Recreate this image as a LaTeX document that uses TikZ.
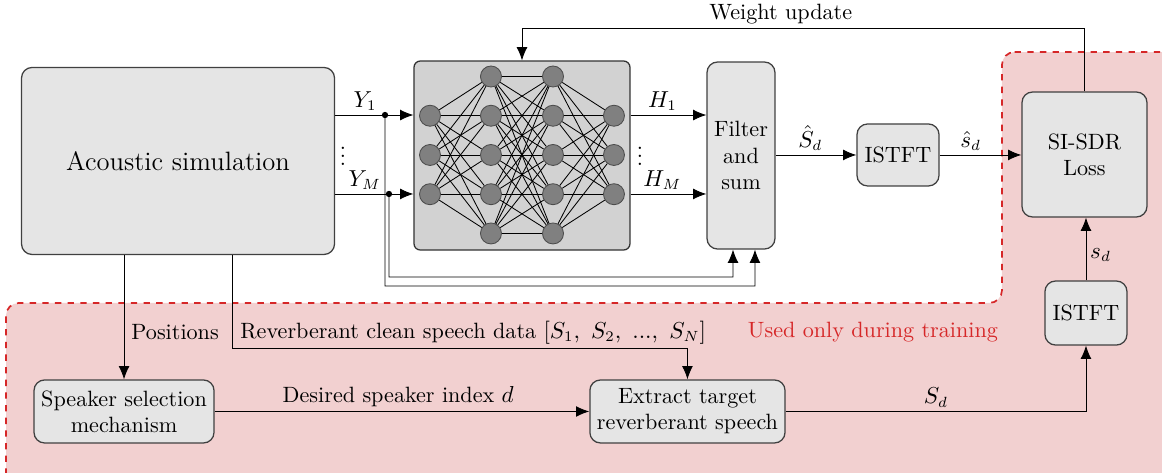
\documentclass[tikz,border=0pt]{standalone}
\usepackage{tikz}
\usetikzlibrary{arrows.meta,calc}
\usepackage{amsmath}
\definecolor{trainred}{RGB}{214,39,40}
\definecolor{trainfill}{RGB}{242,208,208}

\begin{document}
\begin{tikzpicture}[
	>={Latex[length=2.2mm,width=1.8mm]},
	every node/.style={font=\fontsize{10.5pt}{12.4pt}\selectfont},
	block/.style={draw=black!75,semithick,fill=gray!20,rounded corners=5pt,align=center},
	neuron/.style={circle,draw=black!70,fill=gray,minimum size=0.35cm,inner sep=0pt},
	lab/.style={inner sep=1.8pt},
	]
	\clip (0,0) rectangle (19.367,-7.867);
	% training region
	\draw[trainred,thick,dashed,fill=trainfill,rounded corners=6pt]
		(16.7,-0.867) -- (19.8,-0.867) -- (19.8,-8.1) -- (0.1,-8.1)
		-- (0.1,-5.05) -- (16.7,-5.05) -- cycle;
	\node[trainred] (note) at (14.55,-5.533) {Used only during training};

	\node[block,minimum width=5.217cm,minimum height=3.117cm] (ac) at (2.967,-2.683) {\fontsize{12.6pt}{15pt}\selectfont Acoustic simulation};
	\node[draw=black!80,semithick,fill=gray!35,rounded corners=3pt,minimum width=3.6cm,minimum height=3.15cm] (nn) at (8.7,-2.592) {};
	\node[block,minimum width=1.133cm,minimum height=3.117cm] (filter) at (12.35,-2.592) {Filter\\and\\sum};
	\node[block,minimum width=1.367cm,minimum height=1.033cm] (istA) at (14.967,-2.583) {ISTFT};
	\node[block,minimum width=2.083cm,minimum height=2.083cm] (loss) at (18.075,-2.575) {SI-SDR\\Loss};
	\node[block,minimum width=1.367cm,minimum height=1.067cm] (istB) at (18.1,-5.217) {ISTFT};
	\node[block,minimum width=3cm,minimum height=1.05cm] (spk) at (2.067,-6.858) {Speaker selection\\mechanism};
	\node[block,minimum width=3.25cm,minimum height=1.05cm] (ext) at (11.458,-6.858) {Extract target\\reverberant speech};

	% network
	\foreach \i in {-1,0,1} {
		\node[neuron] (a\i) at (7.167,-2.583+0.654*\i) {};
		\node[neuron] (d\i) at (10.233,-2.583+0.654*\i) {};
	}
	\foreach \i in {-2,...,2} {
		\node[neuron] (b\i) at (8.183,-2.583+0.654*\i) {};
		\node[neuron] (c\i) at (9.217,-2.583+0.654*\i) {};
	}
	\foreach \i in {-1,0,1} {
		\foreach \j in {-2,...,2} {
			\draw (a\i) -- (b\j);
			\draw (c\j) -- (d\i);
		}
	}
	\foreach \i in {-2,...,2} {
		\foreach \j in {-2,...,2} {
			\draw (b\i) -- (c\j);
		}
	}

	% inputs
	\coordinate (yA) at (6.417,-1.917);
	\coordinate (yB) at (6.483,-3.233);
	\draw (ac.east |- yA) -- (yA) node[lab,pos=0.6,above] {$Y_1$};
	\draw[->] (yA) -- (nn.west |- yA);
	\draw (ac.east |- yB) -- (yB) node[lab,pos=0.55,above] {$Y_M$};
	\draw[->] (yB) -- (nn.west |- yB);
	\fill (yA) circle (1.5pt);
	\fill (yB) circle (1.5pt);
	\node[inner sep=0pt] (vdA) at (5.717,-2.5) {$\vdots$};
	\draw[->] (yA) |- (12.583,-4.767) -- ([xshift=0.233cm]filter.south);
	\draw[->] (yB) |- (12.217,-4.617) -- ([xshift=-0.133cm]filter.south);

	% outputs
	\draw[->] (nn.east |- yA) -- (filter.west |- yA) node[lab,pos=0.42,above] {$H_1$};
	\draw[->] (nn.east |- yB) -- (filter.west |- yB) node[lab,pos=0.42,above] {$H_M$};
	\node[inner sep=0pt] (vdB) at (10.667,-2.5) {$\vdots$};
	\draw[->] (filter.east |- istA) -- (istA.west) node[lab,pos=0.43,above] {$\hat{S}_d$};
	\draw[->] (istA.east) -- (loss.west |- istA) node[lab,pos=0.38,above] {$\hat{s}_d$};
	\draw[->] (loss.north) -- ++(0,1.05) -| (nn.north) node[lab,pos=0.27,above] {Weight update};
	\draw[->] (istB.north) -- (istB.north |- loss.south) node[lab,pos=0.4,right] {$s_d$};

	% data
	\draw[->] (ac.south -| spk.north) -- (spk.north) node[pos=0.62,right] {Positions};
	\draw[->] ([xshift=0.9cm]ac.south) |- ($(ext.north)+(0,0.517)$) node[lab,pos=0.5,anchor=south west,xshift=2pt] {Reverberant clean speech data $[S_1,\ S_2,\ ...,\ S_N]$} -- (ext.north);
	\draw[->] (spk.east) -- (ext.west) node[lab,pos=0.49,above] {Desired speaker index $d$};
	\draw[->] (ext.east) -| (istB.south) node[lab,pos=0.25,above] {$S_d$};
\end{tikzpicture}
\end{document}
